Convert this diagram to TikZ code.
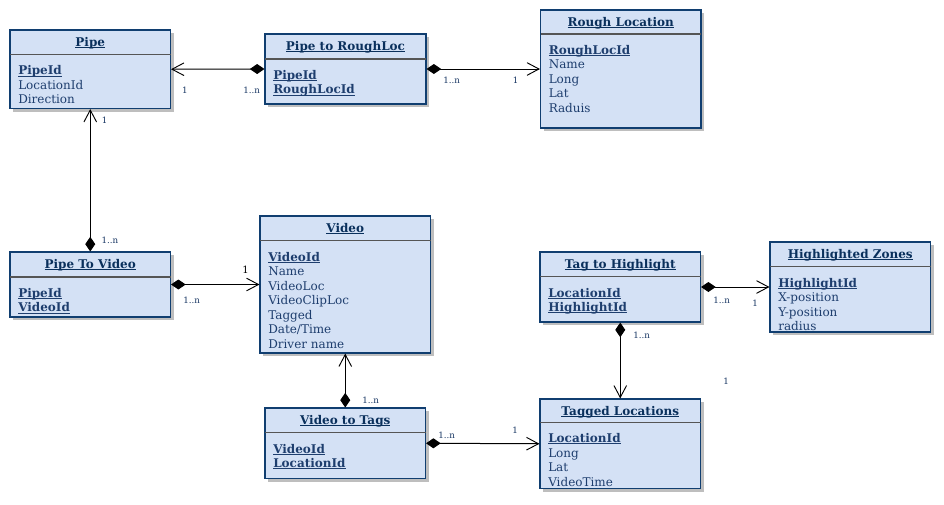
\documentclass[tikz,border=0pt]{standalone}
\usepackage{fontspec}
\setmainfont{DejaVu Serif}
\usetikzlibrary{arrows.meta}
\definecolor{bordc}{RGB}{16,62,112}
\definecolor{fillc}{RGB}{212,225,245}
\definecolor{titlec}{RGB}{10,48,92}
\definecolor{attrc}{RGB}{30,62,110}
\definecolor{divc}{RGB}{85,85,85}
\definecolor{shadowc}{RGB}{190,190,190}
\definecolor{labc}{RGB}{25,55,100}
\tikzset{
  clsbox/.style={draw=bordc, fill=fillc, line width=0.8pt, inner sep=0pt},
  divline/.style={draw=divc, line width=1.1pt},
  clstitle/.style={anchor=base, inner sep=0pt, text=titlec, font=\fontsize{9}{10.9}\selectfont\bfseries},
  clsattr/.style={anchor=north west, inner sep=0pt, align=left, text=attrc, font=\fontsize{9}{10.9}\selectfont},
  conn/.style={draw=black, line width=0.75pt, {Diamond[length=11pt,width=7.5pt,fill=black]}-{Straight Barb[length=9pt,width=9.5pt,line width=0.7pt]}},
  mult/.style={inner sep=0.5pt, text=labc, font=\fontsize{6.5}{7}\selectfont},
}
\newcommand\myul[1]{\setbox0\hbox{#1}\rlap{\rule[-1.3pt]{\wd0}{0.7pt}}\box0}
\newcommand\umlbox[8]{%
  \fill[shadowc] (#2+3,#3+3) rectangle (#2+#4+3,#3+#5+3);
  \node[clsbox, minimum width=#4*0.75pt, minimum height=#5*0.75pt] (#1) at (#2+#4/2,#3+#5/2) {};
  \draw[divline] (#2,#3+#6) -- (#2+#4,#3+#6);
  \node[clstitle] (#1-title) at (#2+#4/2,#3+16) {\myul{#7}};
  \node[clsattr] (#1-attrs) at (#2+8,#3+#6+11) {#8};
}
\newcommand\key[1]{\myul{\textbf{#1}}}
\begin{document}
\begin{tikzpicture}[x=0.75pt,y=-0.75pt]
\useasboundingbox (0,0) rectangle (944,504);
\fill[white] (0,0) rectangle (944,504);

\umlbox{pipe}{10}{30}{160.5}{78.5}{24.5}{Pipe}{\key{PipeId}\\LocationId\\Direction}
\umlbox{ptr}{265}{34}{161}{70}{25}{Pipe to RoughLoc}{\key{PipeId}\\\key{RoughLocId}}
\umlbox{rough}{540.5}{10}{160.5}{118}{24}{Rough Location}{\key{RoughLocId}\\Name\\Long\\Lat\\Raduis}
\umlbox{ptv}{10}{252}{160.5}{65}{25}{Pipe To Video}{\key{PipeId}\\\key{VideoId}}
\umlbox{video}{260}{216}{170.5}{137}{24.7}{Video}{\key{VideoId}\\Name\\VideoLoc\\VideoClipLoc\\Tagged\\Date/Time\\Driver name}
\umlbox{tth}{540}{252}{160.5}{70}{24.7}{Tag to Highlight}{\key{LocationId}\\\key{HighlightId}}
\umlbox{hz}{770}{242}{160.5}{90}{24.7}{Highlighted Zones}{\key{HighlightId}\\X-position\\Y-position\\radius}
\umlbox{vtt}{265}{408}{160.5}{70.5}{24.7}{Video to Tags}{\key{VideoId}\\\key{LocationId}}
\umlbox{tl}{540}{399}{160.5}{89.5}{23.3}{Tagged Locations}{\key{LocationId}\\Long\\Lat\\VideoTime}

\draw[conn] (ptr.west) -- (pipe.east);
\draw[conn] (ptr.east) -- (rough.west);
\draw[conn] (ptv.north) -- (pipe.south);
\draw[conn] (ptv.east) -- (video.west);
\draw[conn] (vtt.north) -- (video.south);
\draw[conn] (vtt.east) -- (tl.west);
\draw[conn] (tth.east) -- (hz.west);
\draw[conn] (tth.south) -- (tl.north);

\node[mult] (m1) at (185,90.3) {1};
\node[mult] (m2) at (251.7,90.3) {1..n};
\node[mult] (m3) at (451.7,80.7) {1..n};
\node[mult] (m4) at (515.7,80.7) {1};
\node[mult] (m5) at (104.7,120) {1};
\node[mult] (m6) at (110,240.7) {1..n};
\node[inner sep=0pt, text=black, font=\fontsize{7.5}{8}\selectfont] (m7) at (245.5,269.5) {1};
\node[mult] (m8) at (191.7,300.3) {1..n};
\node[mult, fill=white, inner xsep=2pt] (m9) at (370.7,400.7) {1..n};
\node[mult] (m10) at (446.7,435) {1..n};
\node[mult] (m11) at (515,430.3) {1};
\node[mult] (m12) at (721.7,300.7) {1..n};
\node[mult] (m13) at (755,303.3) {1};
\node[mult] (m14) at (641.7,335) {1..n};
\node[mult] (m15) at (726,381.7) {1};
\end{tikzpicture}
\end{document}
